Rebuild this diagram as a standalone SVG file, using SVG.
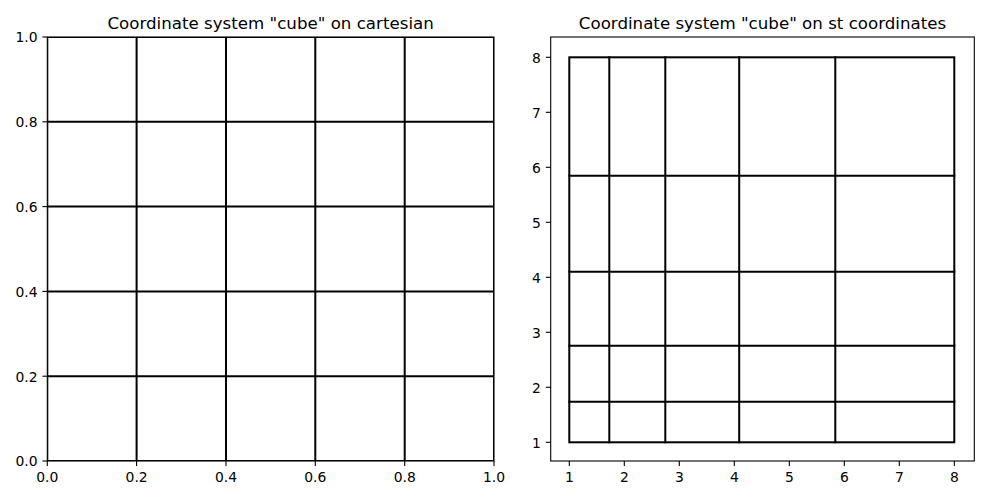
<svg xmlns="http://www.w3.org/2000/svg" width="1000" height="500" viewBox="0 0 1000 500">
<style>
.spine{fill:none;stroke:#000;stroke-width:1.1}
.grid{stroke:#000;stroke-width:2;fill:none;stroke-linecap:square}
.tick{stroke:#000;stroke-width:1.1}
text{font-family:"DejaVu Sans",sans-serif;fill:#000}
.lbl{font-size:13.9px}
.title{font-size:16.67px;text-anchor:middle}
.xl{text-anchor:middle}
.yl{text-anchor:end}
</style>
<rect width="1000" height="500" fill="#fff"/>
<g id="left-axes">
<clipPath id="c1"><rect x="47.3" y="37" width="446.7" height="424"/></clipPath>
<g id="left-grid" clip-path="url(#c1)" class="grid">
<line x1="47.3" y1="37" x2="47.3" y2="461"/>
<line x1="136.6" y1="37" x2="136.6" y2="461"/>
<line x1="226" y1="37" x2="226" y2="461"/>
<line x1="315.3" y1="37" x2="315.3" y2="461"/>
<line x1="404.7" y1="37" x2="404.7" y2="461"/>
<line x1="494" y1="37" x2="494" y2="461"/>
<line x1="47.3" y1="37" x2="494" y2="37"/>
<line x1="47.3" y1="121.8" x2="494" y2="121.8"/>
<line x1="47.3" y1="206.6" x2="494" y2="206.6"/>
<line x1="47.3" y1="291.4" x2="494" y2="291.4"/>
<line x1="47.3" y1="376.2" x2="494" y2="376.2"/>
<line x1="47.3" y1="461" x2="494" y2="461"/>
</g>
<rect class="spine" x="47.3" y="37" width="446.7" height="424"/>
<g class="tick">
<line x1="47.3" y1="461" x2="47.3" y2="465.9"/>
<line x1="136.6" y1="461" x2="136.6" y2="465.9"/>
<line x1="226" y1="461" x2="226" y2="465.9"/>
<line x1="315.3" y1="461" x2="315.3" y2="465.9"/>
<line x1="404.7" y1="461" x2="404.7" y2="465.9"/>
<line x1="494" y1="461" x2="494" y2="465.9"/>
<line x1="42.4" y1="37" x2="47.3" y2="37"/>
<line x1="42.4" y1="121.8" x2="47.3" y2="121.8"/>
<line x1="42.4" y1="206.6" x2="47.3" y2="206.6"/>
<line x1="42.4" y1="291.4" x2="47.3" y2="291.4"/>
<line x1="42.4" y1="376.2" x2="47.3" y2="376.2"/>
<line x1="42.4" y1="461" x2="47.3" y2="461"/>
</g>
<g class="lbl xl">
<text x="47.3" y="481.5">0.0</text>
<text x="136.6" y="481.5">0.2</text>
<text x="226" y="481.5">0.4</text>
<text x="315.3" y="481.5">0.6</text>
<text x="404.7" y="481.5">0.8</text>
<text x="494" y="481.5">1.0</text>
</g>
<g class="lbl yl">
<text x="37.5" y="42.3">1.0</text>
<text x="37.5" y="127.1">0.8</text>
<text x="37.5" y="211.9">0.6</text>
<text x="37.5" y="296.7">0.4</text>
<text x="37.5" y="381.5">0.2</text>
<text x="37.5" y="466.3">0.0</text>
</g>
<text class="title" x="270.6" y="29">Coordinate system "cube" on cartesian</text>
</g>
<g id="right-axes">
<g id="right-grid" class="grid">
<rect x="569.3" y="57.3" width="385" height="385"/>
<line x1="609.3" y1="57.3" x2="609.3" y2="442.3"/>
<line x1="665.3" y1="57.3" x2="665.3" y2="442.3"/>
<line x1="739.2" y1="57.3" x2="739.2" y2="442.3"/>
<line x1="835.3" y1="57.3" x2="835.3" y2="442.3"/>
<line x1="569.3" y1="401.7" x2="954.3" y2="401.7"/>
<line x1="569.3" y1="345.8" x2="954.3" y2="345.8"/>
<line x1="569.3" y1="271.8" x2="954.3" y2="271.8"/>
<line x1="569.3" y1="175.8" x2="954.3" y2="175.8"/>
</g>
<rect class="spine" x="550.7" y="37" width="423.6" height="424"/>
<g class="tick">
<line x1="569.3" y1="461" x2="569.3" y2="465.9"/>
<line x1="624.3" y1="461" x2="624.3" y2="465.9"/>
<line x1="679.3" y1="461" x2="679.3" y2="465.9"/>
<line x1="734.3" y1="461" x2="734.3" y2="465.9"/>
<line x1="789.3" y1="461" x2="789.3" y2="465.9"/>
<line x1="844.3" y1="461" x2="844.3" y2="465.9"/>
<line x1="899.3" y1="461" x2="899.3" y2="465.9"/>
<line x1="954.3" y1="461" x2="954.3" y2="465.9"/>
<line x1="545.8" y1="57.3" x2="550.7" y2="57.3"/>
<line x1="545.8" y1="112.3" x2="550.7" y2="112.3"/>
<line x1="545.8" y1="167.3" x2="550.7" y2="167.3"/>
<line x1="545.8" y1="222.3" x2="550.7" y2="222.3"/>
<line x1="545.8" y1="277.3" x2="550.7" y2="277.3"/>
<line x1="545.8" y1="332.3" x2="550.7" y2="332.3"/>
<line x1="545.8" y1="387.3" x2="550.7" y2="387.3"/>
<line x1="545.8" y1="442.3" x2="550.7" y2="442.3"/>
</g>
<g class="lbl xl">
<text x="569.3" y="481.5">1</text>
<text x="624.3" y="481.5">2</text>
<text x="679.3" y="481.5">3</text>
<text x="734.3" y="481.5">4</text>
<text x="789.3" y="481.5">5</text>
<text x="844.3" y="481.5">6</text>
<text x="899.3" y="481.5">7</text>
<text x="954.3" y="481.5">8</text>
</g>
<g class="lbl yl">
<text x="540.9" y="62.6">8</text>
<text x="540.9" y="117.6">7</text>
<text x="540.9" y="172.6">6</text>
<text x="540.9" y="227.6">5</text>
<text x="540.9" y="282.6">4</text>
<text x="540.9" y="337.6">3</text>
<text x="540.9" y="392.6">2</text>
<text x="540.9" y="447.6">1</text>
</g>
<text class="title" x="762.5" y="29">Coordinate system "cube" on st coordinates</text>
</g>
</svg>
